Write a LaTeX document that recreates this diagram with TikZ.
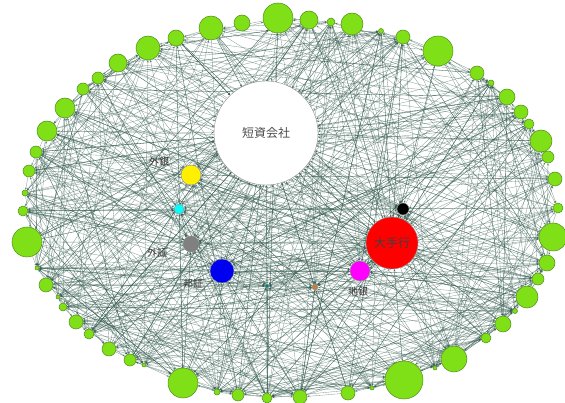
\documentclass[tikz,border=0pt]{standalone}
\usepackage{fontspec}
\newfontfamily\jpfont{Noto Sans CJK JP}
\usetikzlibrary{arrows.meta,backgrounds}
\definecolor{leaf}{RGB}{128,224,24}
\definecolor{leafrim}{RGB}{80,140,22}
\definecolor{linkgreen}{RGB}{50,90,78}
\definecolor{pmag}{RGB}{255,0,255}
\definecolor{pcyan}{RGB}{0,255,255}
\definecolor{pyel}{RGB}{255,240,0}
\definecolor{pred}{RGB}{255,0,0}
\definecolor{pblue}{RGB}{0,0,240}
\tikzset{
  bank/.style={circle,inner sep=0pt,minimum size=#1,draw=leafrim,fill=leaf,line width=0.5pt},
  hub/.style={circle,inner sep=0pt,minimum size=#1,draw=black!45,line width=0.4pt},
  link/.style={draw=linkgreen,opacity=0.6,line width=0.32pt,-{Stealth[length=2.4pt,width=2pt]}},
  tag/.style={font=\jpfont,text=black!80,inner sep=1pt}
}
\begin{document}
\begin{tikzpicture}[x=1pt,y=-1pt]
\useasboundingbox (0,0) rectangle (565,403);
%outer ring of banks (x, y, diameter)
\foreach \x/\y/\d [count=\n] in {
  278/18/30, 309/20/18, 331/22/8, 352/24/22, 381/31/5, 403/37/14, 438/51/30,
  477/73/14, 491/83/6, 507/97/16, 521/112/14, 529/124/10, 541/141/22, 548/157/12,
  555/179/14, 558/208/10, 553/237/28, 547/263/16, 538/279/12, 527/297/22,
  515/311/5, 503/324/16, 486/338/10, 454/359/26, 435/368/4, 404/380/38,
  372/388/4, 348/393/14, 300/397/14, 267/398/10, 238/395/12, 217/392/6,
  183/383/30, 144/365/4, 130/360/12, 109/349/14, 89/334/10, 76/322/14,
  63/307/8, 58/297/4, 46/285/14, 37/268/4, 27/242/30, 23/211/10, 25/193/6,
  29/171/12, 36/152/12, 47/131/20, 65/108/20, 83/89/12, 98/78/12,
  118/63/18, 148/48/24, 176/38/16, 211/28/24, 242/23/16}
  \node[bank=\d pt] (g\n) at (\x,\y) {};
%inner groups
\node[hub=104pt,fill=white,font=\jpfont\large,text=black!70] (tanshi) at (266,133) {短資会社};
\node[hub=52pt,fill=pred,font=\jpfont\large,text=black!75] (oote) at (392,243) {大手行};
\node[hub=20pt,fill=pyel] (gaigin) at (191,175) {};
\node[hub=10pt,fill=pcyan] (cyanbk) at (179,209) {};
\node[hub=16pt,fill=gray] (gaisho) at (191,244) {};
\node[hub=24pt,fill=pblue] (hosho) at (222,271) {};
\node[hub=20pt,fill=pmag] (chigin) at (360,271) {};
\node[hub=12pt,fill=black] (kuro) at (403,209) {};
\node[hub=4pt,fill=teal] (tealbk) at (267,286) {};
\node[hub=6pt,fill=brown] (brownbk) at (315,287) {};
\node[tag] (tgaigin) at (159,162) {外銀};
\node[tag] (tgaisho) at (157,253) {外証};
\node[tag] (thosho) at (193,284) {邦証};
\node[tag] (tchigin) at (358,292) {地銀};
%links
\begin{scope}[on background layer]
\pgfmathsetseed{11}
\foreach \i in {1,...,55}{
  \foreach \k in {1,...,8}{
    \pgfmathsetmacro\j{int(random(1,55))}
    \ifnum\i=\j\relax\else\draw[link] (g\i) -- (g\j);\fi
  }
  \draw[link] (g\i) -- (tanshi);
  \draw[link] (oote) -- (g\i);
}
\foreach \h in {gaigin,cyanbk,gaisho,hosho,chigin,kuro,tealbk,brownbk,tanshi,oote}{
  \foreach \k in {1,...,22}{
    \pgfmathsetmacro\j{int(random(1,55))}
    \draw[link] (g\j) -- (\h);
  }
}
\foreach \a/\b in {gaigin/oote,cyanbk/oote,gaisho/oote,hosho/oote,chigin/oote,kuro/oote,
  gaigin/tanshi,cyanbk/tanshi,gaisho/tanshi,hosho/tanshi,chigin/tanshi,kuro/tanshi,
  tealbk/tanshi,brownbk/tanshi,hosho/chigin,gaigin/kuro,gaisho/chigin,tealbk/oote}
  \draw[link] (\a) -- (\b);
\end{scope}
\end{tikzpicture}
\end{document}
